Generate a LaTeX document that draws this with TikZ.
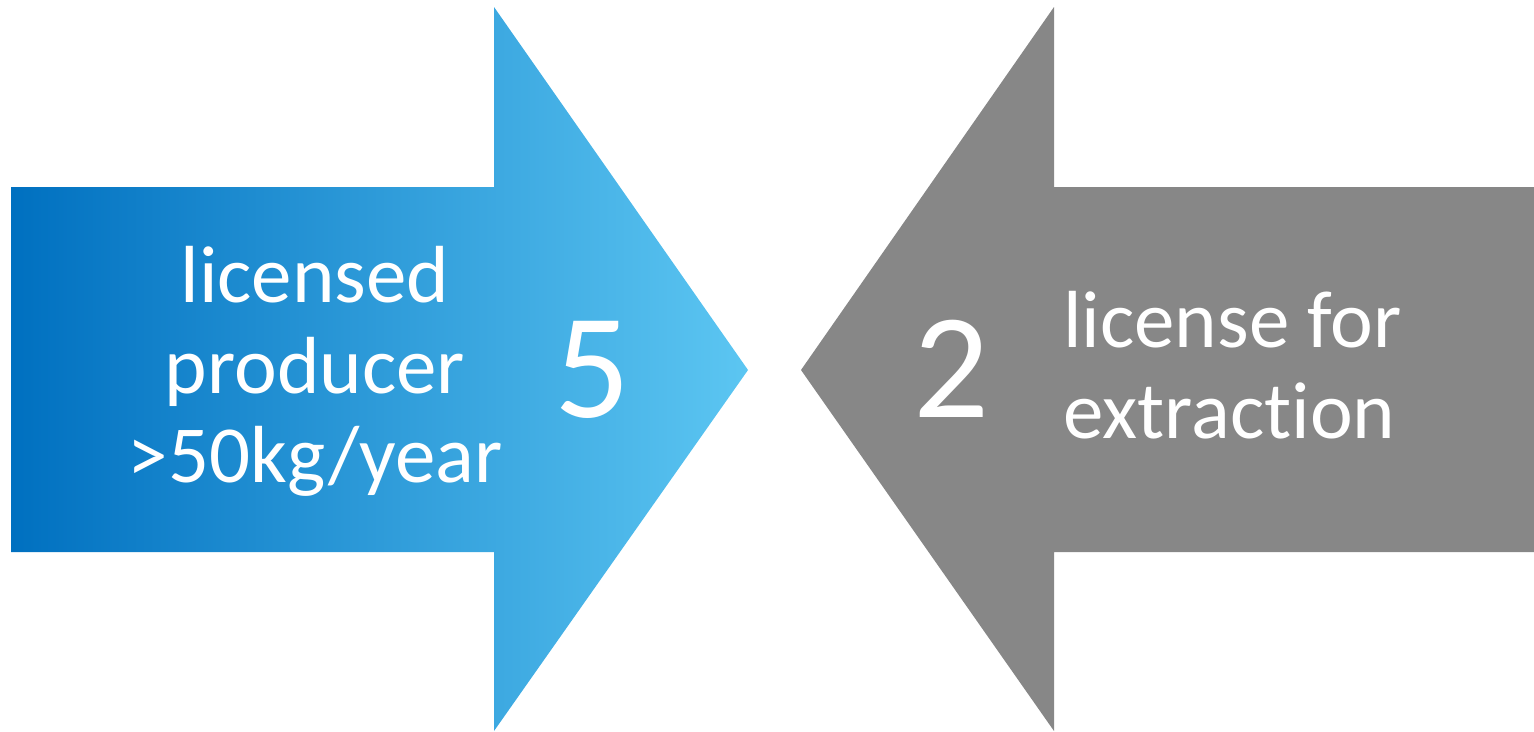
\documentclass[tikz,border=0pt]{standalone}
\usepackage{fontspec}
\setmainfont{Carlito}[Ligatures=NoCommon]
\definecolor{bluedark}{RGB}{0,112,192}
\definecolor{bluelight}{RGB}{92,198,242}
\definecolor{arrowgray}{RGB}{135,135,135}
\tikzset{
  lbl/.style={text=white, inner sep=0pt, anchor=base, font=\fontsize{81}{92}\selectfont},
  lblleft/.style={lbl, anchor=base west},
  bignum/.style={text=white, inner sep=0pt, anchor=base, font=\fontsize{150}{180}\selectfont},
}
\begin{document}
\begin{tikzpicture}[x=1pt,y=-1pt]
\useasboundingbox (0,0) rectangle (1534,731);
% blue arrow pointing right
\shade[left color=bluedark, right color=bluelight]
  (11,187) -- (494,187) -- (494,7) -- (748,370) -- (494,731) -- (494,552) -- (11,552) -- cycle;
% gray arrow pointing left
\fill[arrowgray]
  (1534,187) -- (1054,187) -- (1054,7) -- (801,370) -- (1054,731) -- (1054,552) -- (1534,552) -- cycle;
% left texts
\node[lbl] (l1) at (315,302) {licensed};
\node[lbl] (l2) at (315,393) {producer};
\node[lbl] (l3) at (315,482) {>50kg/year};
\node[bignum] (n5) at (593,417) {5};
% right texts
\node[bignum] (n2) at (952,417) {2};
\node[lblleft] (r1) at (1063,347) {license for};
\node[lblleft] (r2) at (1063,438) {extraction};
\end{tikzpicture}
\end{document}
